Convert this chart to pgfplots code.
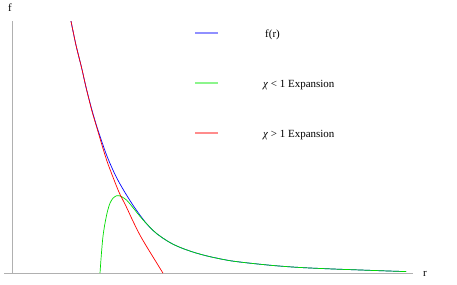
\documentclass[border=0pt]{standalone}
\usepackage{fontspec}
\setmainfont{Liberation Serif}
\usepackage{pgfplots}
\pgfplotsset{compat=1.18}
\definecolor{lgreen}{RGB}{0,220,0}
\definecolor{lblue}{RGB}{0,0,255}
\definecolor{lred}{RGB}{255,0,0}
\definecolor{legblue}{RGB}{144,144,255}
\definecolor{leggreen}{RGB}{140,245,140}
\definecolor{legred}{RGB}{255,140,140}
\definecolor{axgray}{RGB}{176,176,176}
\begin{document}
\begin{tikzpicture}
\begin{axis}[
  scale only axis, width=409bp, height=251bp,
  xmin=4, xmax=413, ymin=0, ymax=251,
  hide axis, clip=false,
  font=\fontsize{11}{13}\selectfont,
]
\draw[axgray, line width=0.9pt] (axis cs:4,0) -- (axis cs:413,0);
\draw[axgray, line width=0.9pt] (axis cs:12,0) -- (axis cs:12,252);
\addplot[color=lblue, line width=0.7pt, smooth] coordinates {
(71,252) (76,228) (81.7,205) (86,186) (91.7,164) (97,146) (102,131) (107,117)
(113,103) (119,91) (126,79) (133,68) (140,58) (147,49) (155,41) (163,35)
(172,29.5) (182,25) (195,20.5) (210,16.5) (230,12.5) (250,10) (275,7.5)
(300,5.7) (330,4.3) (360,3.2) (385,2.3) (406,1.6)};
\addplot[color=lgreen, line width=0.7pt, smooth] coordinates {
(100,0) (100.7,10) (101.7,23) (103,37) (105,50) (107.5,62) (110,70) (113,75)
(116.7,77.5) (119,77.5) (121.7,76.5) (126.7,73) (131,68) (135,63) (139,58)
(143.3,53) (147,49) (155,41) (163,35)
(172,29.5) (182,25) (195,20.5) (210,16.5) (230,12.5) (250,10) (275,7.5)
(300,5.7) (330,4.3) (360,3.2) (385,2.3) (406,1.6)};
\addplot[color=lred, line width=0.7pt, smooth] coordinates {
(71,252) (76,228) (81.7,205) (86,186) (91.7,163) (97,145) (102,128) (107,112)
(113,96) (119,81) (126,67) (133,52) (140,38) (147,26) (155,13) (163,0)};
% legend
\fill[legblue] (axis cs:195,239) rectangle (axis cs:218,241);
\fill[leggreen] (axis cs:195,189) rectangle (axis cs:218,191);
\fill[legred] (axis cs:195,139) rectangle (axis cs:218,141);
\node[anchor=base west, inner sep=0pt] at (axis cs:265,236) {f(r)};
\node[anchor=base west, inner sep=0pt] at (axis cs:263,186) {\textit{χ} < 1 Expansion};
\node[anchor=base west, inner sep=0pt] at (axis cs:263,136) {\textit{χ} > 1 Expansion};
\node at (axis cs:10,266) {f};
\node at (axis cs:425,-1) {r};
\path[use as bounding box] (axis cs:0,-11) rectangle (axis cs:457,273);
\end{axis}
\end{tikzpicture}
\end{document}
